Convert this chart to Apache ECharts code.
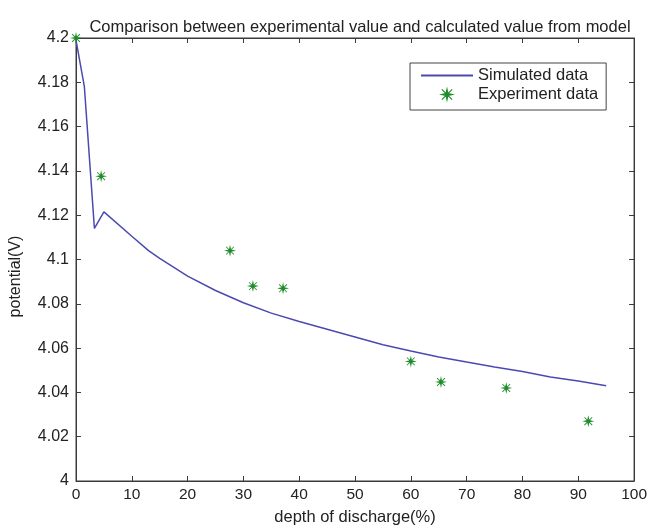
<!DOCTYPE html>
<html>
<head>
<meta charset="utf-8">
<script src="https://cdn.jsdelivr.net/npm/echarts@6/dist/echarts.min.js"></script>
<style>
html,body{margin:0;padding:0;background:#fff;}
#chart{width:650px;height:531px;}
</style>
</head>
<body>
<div id="chart"></div>
<script>
// Simulated data (depth of discharge %, potential V)
var simX = [0, 1.5, 3.3, 5, 10, 13, 15, 20, 25, 30, 35, 40, 45, 50, 55, 60, 65, 70, 75, 80, 85, 90, 95];
var simY = [4.199, 4.178, 4.114, 4.1215, 4.1105, 4.104, 4.1005, 4.0925, 4.086, 4.0805, 4.0758, 4.072, 4.0685, 4.065, 4.0615, 4.0587, 4.056, 4.0537, 4.0515, 4.0494, 4.047, 4.0451, 4.043];
// Experiment data
var expX = [0, 4.5, 27.6, 31.7, 37.1, 60, 65.4, 77.1, 91.8];
var expY = [4.2, 4.1376, 4.104, 4.088, 4.087, 4.054, 4.0447, 4.042, 4.027];
// Tick labels
var xTicks = ['0','10','20','30','40','50','60','70','80','90','100'];
var yTicks = ['4','4.02','4.04','4.06','4.08','4.1','4.12','4.14','4.16','4.18','4.2'];

var simData = simX.map(function(x, i){ return [x, simY[i]]; });
var expData = expX.map(function(x, i){ return [x, expY[i]]; });

var chart = echarts.init(document.getElementById('chart'), null, {renderer:'canvas'});
var txt = '#222';
var ax = '#3a3a3a';
var font = 'Liberation Sans';
var star = 'path://M0,-10 L1.8,-1.8 L10,0 L1.8,1.8 L0,10 L-1.8,1.8 L-10,0 L-1.8,-1.8 Z M-6,-7 L7,6 L6,7 L-7,-6 Z M6,-7 L7,-6 L-6,7 L-7,6 Z';

chart.setOption({
  animation:false,
  backgroundColor:'#fff',
  title:{
    text:'Comparison between experimental value and calculated value from model',
    left:355, textAlign:'center', top:14,
    textStyle:{fontFamily:font, fontSize:16.5, fontWeight:'normal', color:txt}
  },
  grid:{left:75, right:14, top:38, bottom:49, show:true, borderColor:ax, borderWidth:1},
  legend:{
    orient:'vertical', left:410, top:63,
    backgroundColor:'#fff', borderColor:'#444', borderWidth:1,
    padding:[4,8,7,10], itemGap:2, itemWidth:52, itemHeight:16,
    textStyle:{fontFamily:font, fontSize:16.5, color:txt, padding:[0,0,0,0]},
    data:['Simulated data','Experiment data']
  },
  xAxis:[{
    type:'value', min:0, max:100, interval:10,
    name:'depth of discharge(%)', nameLocation:'middle', nameGap:28,
    nameTextStyle:{fontFamily:font, fontSize:16.5, color:txt},
    axisLine:{show:true, onZero:false, lineStyle:{color:ax}},
    axisTick:{show:true, inside:true, length:5, lineStyle:{color:ax}},
    axisLabel:{fontFamily:font, fontSize:15.5, color:txt, margin:6,
      formatter:function(v){ return xTicks[Math.round(v/10)]; }},
    splitLine:{show:false}
  },{
    type:'value', min:0, max:100, interval:10, position:'top',
    axisLine:{show:true, onZero:false, lineStyle:{color:ax}},
    axisTick:{show:true, inside:true, length:5, lineStyle:{color:ax}},
    axisLabel:{show:false}, splitLine:{show:false}
  }],
  yAxis:[{
    type:'value', min:4, max:4.2, interval:0.02,
    name:'potential(V)', nameLocation:'middle', nameGap:52,
    nameTextStyle:{fontFamily:font, fontSize:16, color:txt, padding:[0,34,0,0]},
    axisLine:{show:true, onZero:false, lineStyle:{color:ax}},
    axisTick:{show:true, inside:true, length:5, lineStyle:{color:ax}},
    axisLabel:{fontFamily:font, fontSize:16, color:txt, margin:7,
      formatter:function(v){ return yTicks[Math.round((v-4)/0.02)]; }},
    splitLine:{show:false}
  },{
    type:'value', min:4, max:4.2, interval:0.02, position:'right',
    axisLine:{show:true, onZero:false, lineStyle:{color:ax}},
    axisTick:{show:true, inside:true, length:5, lineStyle:{color:ax}},
    axisLabel:{show:false}, splitLine:{show:false}
  }],
  series:[{
    name:'Simulated data', type:'line', data:simData,
    symbol:'circle', showSymbol:false, symbolSize:0, smooth:false,
    lineStyle:{color:'#4a4ab0', width:1.5},
    itemStyle:{color:'rgba(0,0,0,0)', borderWidth:0}, z:2
  },{
    name:'Experiment data', type:'scatter', data:expData,
    symbol:star, symbolSize:12, symbolKeepAspect:true,
    itemStyle:{color:'#1e8c2a', opacity:1}, z:3
  }]
});
</script>
</body>
</html>
